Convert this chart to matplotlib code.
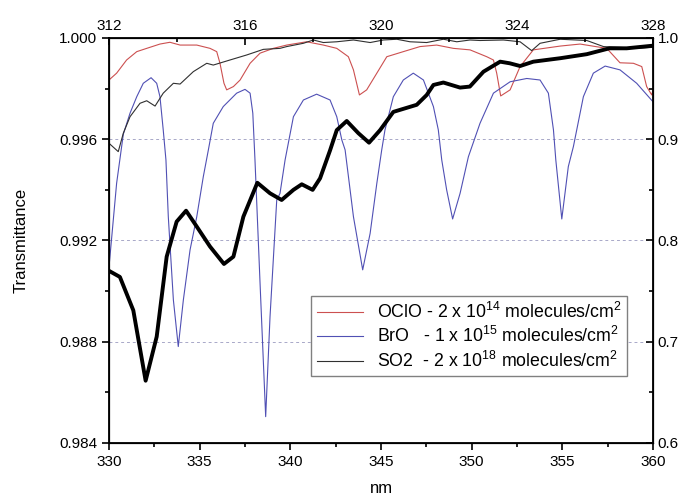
import matplotlib
matplotlib.use("Agg")
import matplotlib.pyplot as plt
from matplotlib.ticker import MultipleLocator

plt.rcParams['font.family'] = ['Liberation Sans', 'DejaVu Sans']
plt.rcParams['mathtext.default'] = 'regular'

# OClO (left axis)
oclo_nm = [330.0, 330.42, 330.97, 331.53, 332.08, 332.81, 333.36, 333.92, 334.84, 335.57,
           335.94, 336.12, 336.34, 336.49, 336.86, 337.23, 337.78, 338.33, 339.06, 339.8,
           340.9, 341.82, 342.56, 343.2, 343.48, 343.81, 344.21, 344.77, 345.32, 346.23,
           347.15, 348.07, 348.99, 349.91, 350.83, 351.2, 351.38, 351.6, 352.12, 352.67,
           353.4, 354.88, 355.98, 357.45, 358.18, 358.92, 359.38, 359.65, 359.93, 360.0]
oclo_t = [0.99834, 0.99861, 0.99913, 0.99946, 0.99959, 0.99976, 0.99983, 0.99972, 0.99972, 0.99959,
          0.99946, 0.99900, 0.99821, 0.99795, 0.99808, 0.99834, 0.99900, 0.99940, 0.99959, 0.99972,
          0.99985, 0.99972, 0.99959, 0.99926, 0.99874, 0.99775, 0.99795, 0.99861, 0.99926, 0.99946,
          0.99966, 0.99972, 0.99959, 0.99953, 0.99926, 0.99913, 0.99861, 0.99771, 0.99795, 0.99887,
          0.99953, 0.99968, 0.99976, 0.99959, 0.99902, 0.99900, 0.99887, 0.99808, 0.99775, 0.99795]

# BrO (left axis)
bro_nm = [330.0, 330.42, 330.79, 331.16, 331.53, 331.89, 332.32, 332.63, 332.81, 332.99,
          333.14, 333.27, 333.55, 333.82, 334.1, 334.47, 334.84, 335.2, 335.48, 335.75,
          336.3, 337.04, 337.5, 337.78, 337.93, 338.05, 338.33, 338.64, 338.88, 339.25,
          339.43, 339.71, 340.17, 340.72, 341.45, 342.19, 342.56, 342.84, 343.02, 343.48,
          343.99, 344.4, 344.77, 345.04, 345.22, 345.68, 346.23, 346.78, 347.34, 347.89,
          348.16, 348.35, 348.62, 348.95, 349.36, 349.82, 350.46, 351.2, 352.12, 353.04,
          353.77, 354.23, 354.51, 354.64, 354.97, 355.33, 355.61, 356.16, 356.71, 357.36,
          358.18, 359.1, 360.0]
bro_t = [0.99095, 0.99426, 0.99620, 0.99703, 0.99768, 0.99821, 0.99843, 0.99821, 0.99768, 0.99637,
         0.99518, 0.99294, 0.98965, 0.98781, 0.98965, 0.99163, 0.99294, 0.99452, 0.99558, 0.99663,
         0.99729, 0.99782, 0.99797, 0.99782, 0.99703, 0.99518, 0.99031, 0.98504, 0.98899, 0.99360,
         0.99386, 0.99518, 0.99689, 0.99755, 0.99778, 0.99755, 0.99689, 0.99597, 0.99558, 0.99294,
         0.99084, 0.99228, 0.99426, 0.99558, 0.99637, 0.99768, 0.99834, 0.99861, 0.99834, 0.99729,
         0.99637, 0.99518, 0.99400, 0.99285, 0.99386, 0.99531, 0.99663, 0.99782, 0.99827, 0.99840,
         0.99834, 0.99782, 0.99637, 0.99518, 0.99285, 0.99492, 0.99571, 0.99768, 0.99861, 0.99889,
         0.99874, 0.99821, 0.99748]

# SO2 thin (left axis)
so2_nm = [330.0, 330.51, 330.79, 331.16, 331.71, 332.08, 332.54, 332.99, 333.55, 333.92,
          334.65, 335.39, 335.75, 336.67, 337.6, 338.51, 339.43, 339.8, 340.72, 341.27,
          341.82, 342.56, 343.48, 344.4, 345.13, 345.87, 346.6, 347.52, 348.44, 349.18,
          349.91, 350.46, 351.75, 352.67, 353.31, 353.77, 354.88, 356.35, 357.27, 358.18,
          359.1, 360.0]
so2_t = [0.99584, 0.99551, 0.99624, 0.99689, 0.99742, 0.99752, 0.99731, 0.99782, 0.99821, 0.99818,
         0.99867, 0.99900, 0.99893, 0.99913, 0.99933, 0.99955, 0.99959, 0.99966, 0.99979, 0.99992,
         0.99982, 0.99985, 0.99992, 0.99982, 0.99992, 0.99995, 0.99985, 0.99982, 0.99995, 0.99985,
         0.99992, 0.99990, 0.99992, 0.99985, 0.99950, 0.99979, 0.99995, 0.99990, 0.99966, 0.99963,
         0.99959, 0.99963]

# thick curve (right axis)
thick_nm = [330.0, 330.6, 331.34, 332.02, 332.63, 333.18, 333.73, 334.25, 334.84, 335.57,
            336.34, 336.86, 337.41, 338.18, 338.88, 339.52, 340.17, 340.63, 341.23, 341.64,
            342.19, 342.56, 343.11, 343.75, 344.34, 344.95, 345.68, 346.6, 346.97, 347.52,
            347.89, 348.44, 349.36, 349.9, 350.65, 351.57, 352.1, 352.67, 353.4, 354.88,
            356.35, 357.6, 358.55, 360.0]
thick_t = [0.770, 0.764, 0.731, 0.6615, 0.705, 0.784, 0.8186, 0.8294, 0.8137, 0.794,
           0.7768, 0.784, 0.8235, 0.857, 0.8466, 0.840, 0.850, 0.8555, 0.850, 0.8614,
           0.889, 0.909, 0.918, 0.906, 0.8966, 0.909, 0.927, 0.932, 0.934, 0.9437,
           0.9536, 0.956, 0.951, 0.952, 0.9667, 0.9766, 0.975, 0.9723, 0.9766, 0.980,
           0.984, 0.9898, 0.9898, 0.9924]

labels = ['OClO - 2 x 10$^{14}$ molecules/cm$^{2}$',
          'BrO   - 1 x 10$^{15}$ molecules/cm$^{2}$',
          'SO2  - 2 x 10$^{18}$ molecules/cm$^{2}$']

fig = plt.figure(figsize=(6.86, 5.01), dpi=100)
ax = fig.add_axes([0.1589, 0.1158, 0.7930, 0.8084])

ax.plot(oclo_nm, oclo_t, color='#cc5050', lw=0.8, label=labels[0])
ax.plot(bro_nm, bro_t, color='#5050b4', lw=0.8, label=labels[1])
ax.plot(so2_nm, so2_t, color='#303030', lw=0.8, label=labels[2])

ax.set_xlim(330, 360)
ax.set_ylim(0.984, 1.000)
ax.xaxis.set_major_locator(MultipleLocator(5))
ax.xaxis.set_minor_locator(MultipleLocator(2.5))
ax.yaxis.set_major_locator(MultipleLocator(0.004))
ax.yaxis.set_minor_locator(MultipleLocator(0.002))
ax.yaxis.set_major_formatter(plt.FormatStrFormatter('%.3f'))
ax.tick_params(which='both', direction='out', labelsize=11, width=1.2)
ax.tick_params(which='major', length=5)
ax.tick_params(which='minor', length=3)
for v in [0.988, 0.992, 0.996]:
    ax.axhline(v, color='#a8a8c8', lw=0.7, ls=(0, (3, 3)), zorder=0)
ax.set_xlabel('nm', fontsize=12, labelpad=9)
ax.set_ylabel('Transmittance', fontsize=12, labelpad=22)
for s in ax.spines.values():
    s.set_linewidth(1.3)

ax2 = ax.twinx()
ax2.plot(thick_nm, thick_t, color='black', lw=2.8, solid_joinstyle='round')
ax2.set_ylim(0.6, 1.0)
ax2.yaxis.set_major_locator(MultipleLocator(0.1))
ax2.yaxis.set_minor_locator(MultipleLocator(0.05))
ax2.tick_params(which='both', direction='in', labelsize=11, width=1.2)
ax2.tick_params(which='major', length=5)
ax2.tick_params(which='minor', length=3)

ax3 = ax.twiny()
ax3.set_xlim(312, 328)
ax3.xaxis.set_major_locator(MultipleLocator(4))
ax3.xaxis.set_minor_locator(MultipleLocator(2))
ax3.tick_params(which='both', direction='in', labelsize=11, width=1.2)
ax3.tick_params(which='major', length=5)
ax3.tick_params(which='minor', length=3)

h, l = ax.get_legend_handles_labels()
leg = ax3.legend(h, l, loc='lower right', bbox_to_anchor=(0.969, 0.143), fontsize=12.8,
                 fancybox=False, edgecolor='#808080', framealpha=1, handlelength=2.6,
                 borderpad=0.3, labelspacing=0.25)
leg.get_frame().set_linewidth(1.0)

fig.savefig('out.png', dpi=100)
